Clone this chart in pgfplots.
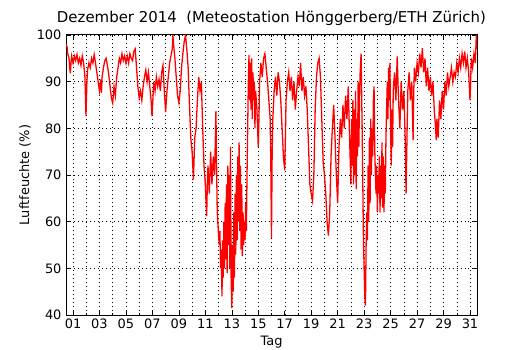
\documentclass[border=0pt]{standalone}
\usepackage{pgfplots}
\pgfplotsset{compat=1.18}
\usepackage{pgfplotstable}
\usepackage{fontspec}
\setmainfont{DejaVu Sans}
\usetikzlibrary{calc}
\pgfplotstableread{
x y
0.47 98
0.55 97.5
0.6 96
0.7 95
0.75 93
0.8 91.8
0.85 94
0.9 95.5
1.0 94
1.1 95.5
1.2 94.5
1.3 95.8
1.4 94
1.5 95
1.6 93.5
1.7 95.5
1.8 94
1.9 91
1.98 82.6
2.05 90
2.1 92.5
2.2 94
2.3 93
2.4 95
2.5 94
2.6 95.8
2.7 94
2.8 92
2.9 90
3.0 88
3.1 90.5
3.15 87.6
3.2 91
3.3 93
3.4 94.5
3.5 95
3.6 93.5
3.7 91.5
3.8 89
3.9 86.5
4.0 85.4
4.1 89
4.2 87
4.3 91
4.4 93
4.5 95
4.6 94
4.7 96
4.8 94.5
4.9 95.5
5.0 94
5.1 95.5
5.2 94
5.3 96
5.4 95
5.5 94.5
5.6 96.5
5.7 97
5.8 93
5.9 89
6.0 86.5
6.1 88
6.2 86
6.3 89
6.4 91
6.5 92.5
6.6 90
6.7 92
6.8 89
6.9 86
6.97 82.6
7.05 87
7.1 90
7.2 88
7.3 91
7.4 89
7.5 90.5
7.6 88
7.7 92
7.8 93.5
7.9 88
8.0 83.5
8.1 88
8.2 91
8.3 94
8.4 95.5
8.5 97
8.55 100
8.6 98
8.7 95
8.8 91
8.9 87
9.0 85.5
9.1 88
9.2 93
9.3 96
9.4 98.5
9.5 100
9.6 97
9.7 93
9.8 85
9.9 78
10.0 75
10.1 69
10.2 78
10.3 80
10.4 86
10.5 91
10.6 88
10.7 90
10.8 80
10.9 72
11.0 68
11.1 61.2
11.15 68
11.2 72
11.3 66
11.4 75
11.5 68
11.6 74
11.7 70
11.8 83.7
11.85 72
11.9 62
12.0 57
12.05 55
12.1 58
12.15 50
12.2 54
12.26 44
12.3 56
12.35 48
12.4 60
12.45 50
12.5 64
12.55 52
12.6 68
12.65 49
12.7 72
12.75 55
12.8 70
12.85 50
12.9 76
12.95 48
13.0 41.5
13.05 55
13.1 45
13.15 62
13.2 48
13.25 66
13.3 53
13.35 70
13.4 56
13.45 74
13.5 60
13.55 77
13.6 58
13.65 72
13.7 54
13.75 68
13.8 52.6
13.85 62
13.9 55
13.95 60
14.0 56
14.05 64
14.1 58
14.15 70
14.2 80
14.25 90
14.3 95.7
14.35 86
14.4 94
14.45 84
14.5 95
14.55 82
14.6 92
14.65 86
14.7 90
14.75 80
14.8 88
14.9 84
15.0 76
15.05 82
15.1 90
15.2 94
15.3 91
15.4 95
15.5 96
15.6 93
15.7 90
15.8 86
15.9 82
15.95 72
16.0 56.5
16.05 75
16.1 82
16.2 88
16.3 91
16.4 87
16.5 92
16.6 90
16.7 86
16.8 80
16.9 74
17.0 71
17.05 78
17.1 86
17.2 90
17.3 92
17.4 88
17.5 91
17.6 86
17.7 90
17.8 84
17.9 88
18.0 91
18.1 89
18.2 94
18.3 88
18.4 91
18.5 87
18.6 89
18.7 84
18.8 76
18.9 68
19.0 66
19.1 64.5
19.2 70
19.3 84
19.4 91
19.5 94
19.6 95
19.7 91
19.8 82
19.9 73
20.0 70
20.1 66
20.2 60
20.3 57
20.4 62
20.5 74
20.6 80
20.7 85
20.8 78
20.9 70
21.0 64
21.1 76
21.2 82
21.3 78
21.4 85
21.5 80
21.6 87
21.7 82
21.8 89
21.9 78
22.0 68
22.05 82
22.1 72
22.15 86
22.2 68
22.25 84
22.3 70
22.35 88
22.4 67
22.45 82
22.5 74
22.55 90
22.6 76
22.65 86
22.7 92
22.77 96
22.85 80
22.9 68
22.95 56
23.0 50
23.05 44
23.1 42
23.15 55
23.2 62
23.25 56
23.3 72
23.35 60
23.4 78
23.45 64
23.5 82
23.55 70
23.6 80
23.65 74
23.7 86
23.75 89
23.8 76
23.85 70
23.9 66
23.95 72
24.0 62
24.05 70
24.1 66
24.15 74
24.2 62
24.25 72
24.3 65
24.35 77
24.4 63
24.45 74
24.5 62
24.55 72
24.6 66
24.65 78
24.7 84
24.75 90
24.8 82
24.85 93
24.9 86
24.95 94
25.0 80
25.05 72
25.1 84
25.15 76
25.2 88
25.3 92
25.4 86
25.5 95.4
25.6 86
25.7 80
25.8 90
25.9 84
26.0 88
26.1 78
26.17 66
26.25 80
26.3 88
26.4 92
26.5 86
26.6 90
26.7 77.5
26.75 88
26.8 93
26.9 90
27.0 94
27.1 92
27.2 96
27.3 93
27.4 97.2
27.5 92
27.6 95
27.7 89
27.8 93
27.9 88
28.0 91
28.1 87
28.2 90
28.3 84
28.4 80
28.45 77.5
28.5 82
28.6 78
28.7 86
28.8 82
28.9 88
29.0 84
29.1 90
29.2 87
29.3 92
29.4 89
29.5 91
29.6 93
29.7 90
29.8 92
29.9 91
30.0 94
30.1 92
30.2 95
30.3 93
30.4 96
30.5 94
30.6 96.5
30.7 93
30.8 95
30.9 92
31.0 86
31.05 90
31.1 95
31.2 93
31.3 96
31.4 94
31.48 100
31.53 97
}\humid
\begin{document}
\begin{tikzpicture}
\begin{axis}[
  scale only axis,
  width=411bp, height=280bp,
  xmin=0.47, xmax=31.53,
  ymin=40, ymax=100,
  xtick={1,3,...,31},
  xticklabels={01,03,05,07,09,11,13,15,17,19,21,23,25,27,29,31},
  minor xtick={2,4,...,30},
  ytick={40,50,...,100},
  xmajorgrids, xminorgrids, ymajorgrids,
  grid style={black, line width=0.45pt, dash pattern=on 1pt off 3pt},
  minor grid style={black, line width=0.45pt, dash pattern=on 1pt off 3pt},
  tick align=inside,
  major tick length=4bp,
  minor tick length=2bp,
  tick style={black, line width=0.5pt},
  axis line style={black, line width=1pt},
  tick label style={font=\fontsize{13}{15}\selectfont},
  /pgf/number format/assume math mode=true,
  xticklabel style={yshift=-0.5bp},
  yticklabel style={xshift=-1bp},
  title={Dezember 2014\ \ (Meteostation Hönggerberg/ETH Zürich)},
  title style={font=\fontsize{15}{17}\selectfont, at={(axis description cs:0.5,1.039)}, anchor=center},
  xlabel={Tag},
  ylabel={Luftfeuchte (\%)},
  label style={font=\fontsize{13}{15}\selectfont},
  xlabel style={at={(axis description cs:0.5,-0.096)}, anchor=center},
  ylabel style={at={(axis description cs:-0.0998,0.5)}, anchor=center, rotate=0},
]
\addplot[red, line width=1.3pt] table[x=x, y=y] {\humid};
\end{axis}
\pgfresetboundingbox
\path ($(current axis.south west)+(-66bp,-35bp)$) rectangle ($(current axis.north east)+(53bp,35bp)$);
\end{tikzpicture}
\end{document}
